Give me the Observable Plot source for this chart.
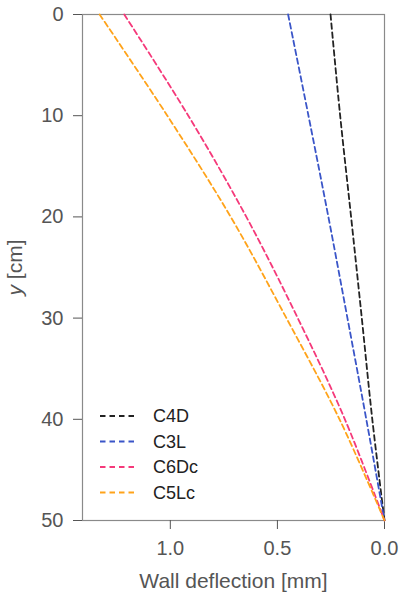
<!DOCTYPE html>
<html><head><meta charset="utf-8">
<script src="https://cdn.jsdelivr.net/npm/d3@7"></script>
<script src="https://cdn.jsdelivr.net/npm/@observablehq/plot@0.6"></script>
<style>body{margin:0;background:#fff} svg{display:block}</style>
</head><body><div id="chart"></div>
<script>
const depth = [0, 10, 20, 30, 40, 50];
const seriesNames = ["C4D", "C3L", "C6Dc", "C5Lc"];
const C4D  = [0.252, 0.207, 0.156, 0.106, 0.057, 0];
const C3L  = [0.450, 0.355, 0.262, 0.173, 0.085, 0];
const C6Dc = [1.215, 0.916, 0.645, 0.405, 0.185, 0];
const C5Lc = [1.330, 1.014, 0.718, 0.458, 0.210, 0];
const colors = ["#222222", "#3a55c8", "#f5397a", "#ffa31a"];
const xTicks = [1.0, 0.5, 0.0];
const yTicks = [0, 10, 20, 30, 40, 50];

const values = [C4D, C3L, C6Dc, C5Lc];
const rows = [];
seriesNames.forEach((name, i) => {
  depth.forEach((d, j) => rows.push({series: name, depth: d, defl: values[i][j]}));
});

const font = "'Liberation Sans', Arial, Helvetica, sans-serif";
const plot = Plot.plot({
  width: 401, height: 594,
  marginLeft: 82, marginRight: 17, marginTop: 14, marginBottom: 74,
  style: {fontFamily: font, background: "#fff", overflow: "visible"},
  x: {domain: [1.41, 0]},
  y: {domain: [0, 50], reverse: true},
  color: {domain: seriesNames, range: colors},
  marks: [
    Plot.frame({stroke: "#8a8a8a", strokeWidth: 1.2}),
    Plot.axisX({ticks: xTicks, tickFormat: d3.format(".1f"), tickSize: 9, tickPadding: 11,
      fontSize: 20, color: "#555", label: "Wall deflection [mm]", labelAnchor: "center",
      labelArrow: "none", labelOffset: 67}),
    Plot.axisY({ticks: yTicks, tickFormat: d3.format("d"), tickSize: 9, tickPadding: 10,
      fontSize: 20, color: "#555", label: "y [cm]", labelAnchor: "center",
      labelArrow: "none", labelOffset: 75}),
    Plot.line(rows, {x: "defl", y: "depth", stroke: "series", z: "series",
      curve: "catmull-rom", strokeWidth: 1.8, strokeDasharray: "5.5,3.5"})
  ]
});
document.getElementById("chart").appendChild(plot);

const svg = d3.select(plot);
svg.selectAll('g[aria-label="x-axis label"] text').attr("font-size", 21);
// italic y in the y-axis label
svg.selectAll('g[aria-label="y-axis label"] text').each(function() {
  const t = d3.select(this);
  t.attr("font-size", 21);
  t.text(null);
  t.append("tspan").attr("font-style", "italic").text("y");
  t.append("tspan").text(" [cm]");
});

// legend
const lg = svg.append("g").attr("font-family", font).attr("font-size", 18)
  .attr("text-anchor", "start");
seriesNames.forEach((name, i) => {
  const yy = 416 + 25.5 * i;
  lg.append("line").attr("x1", 100).attr("x2", 138).attr("y1", yy).attr("y2", yy)
    .attr("stroke", colors[i]).attr("stroke-width", 1.8).attr("stroke-dasharray", "5.5,4");
  lg.append("text").attr("x", 153).attr("y", yy).attr("dy", "0.36em")
    .attr("text-anchor", "start").attr("fill", "#222").text(name);
});
</script>
</body></html>
